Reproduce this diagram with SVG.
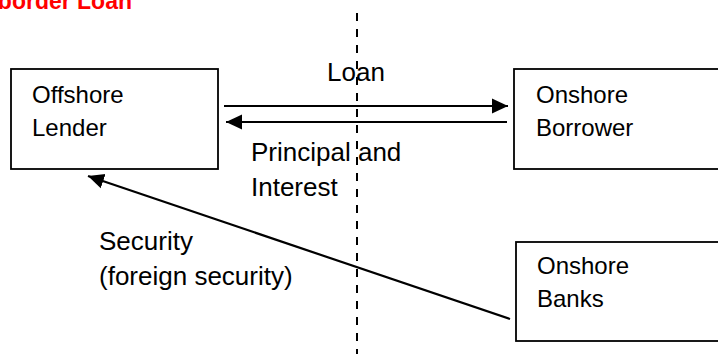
<svg xmlns="http://www.w3.org/2000/svg" width="718" height="354" viewBox="0 0 718 354">
<style>
.box{fill:#fff;stroke:#000;stroke-width:1.8}
.t{font-family:"Liberation Sans",Arial,sans-serif;font-size:24px;fill:#000}
.l{font-family:"Liberation Sans",Arial,sans-serif;font-size:26px;fill:#000}
.title{font-family:"Liberation Sans",Arial,sans-serif;font-size:23px;font-weight:bold;fill:#ff0000}
.c{stroke:#000;stroke-width:2.2;fill:none}
.div{stroke:#000;stroke-width:2;stroke-dasharray:8 8;fill:none}
</style>
<defs>
<marker id="ah" markerUnits="userSpaceOnUse" markerWidth="17" markerHeight="17" viewBox="0 0 17 17" refX="16" refY="8.5" orient="auto">
<polygon points="0,1 16,8.5 0,16" fill="#000"/>
</marker>
</defs>
<rect width="718" height="354" fill="#fff"/>
<text class="title" x="132" y="9" text-anchor="end">border Loan</text>
<line class="div" x1="357" y1="13" x2="357" y2="354"/>
<g id="offshore-lender">
<rect class="box" x="11" y="69" width="207" height="100"/>
<text class="t" x="32" y="103">Offshore</text>
<text class="t" x="32" y="136">Lender</text>
</g>
<g id="onshore-borrower">
<rect class="box" x="514" y="69" width="220" height="100"/>
<text class="t" x="536" y="103">Onshore</text>
<text class="t" x="536" y="136">Borrower</text>
</g>
<g id="onshore-banks">
<rect class="box" x="516" y="242" width="220" height="99"/>
<text class="t" x="537" y="274">Onshore</text>
<text class="t" x="537" y="307">Banks</text>
</g>
<g id="connectors">
<line class="c" x1="224" y1="106" x2="508" y2="106" marker-end="url(#ah)"/>
<line class="c" x1="507" y1="122" x2="226" y2="122" marker-end="url(#ah)"/>
<line class="c" x1="510" y1="319" x2="88" y2="176" marker-end="url(#ah)"/>
</g>
<g id="labels">
<text class="l" x="327" y="81">Loan</text>
<text class="l" x="251" y="161">Principal and</text>
<text class="l" x="251" y="196">Interest</text>
<text class="l" x="99" y="250">Security</text>
<text class="l" x="99" y="285">(foreign security)</text>
</g>
</svg>
